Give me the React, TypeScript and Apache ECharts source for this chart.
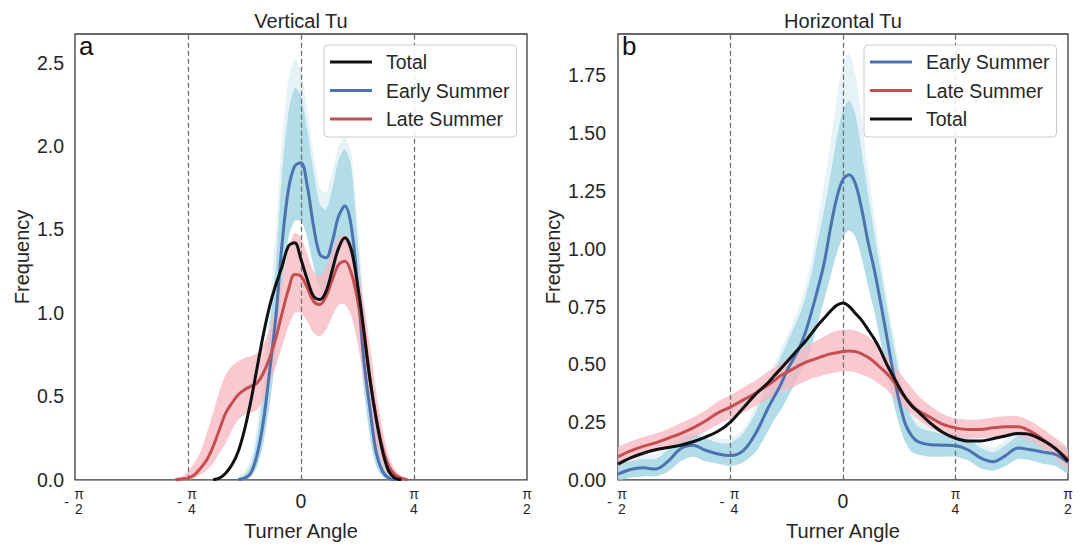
import React, { useEffect, useRef } from 'react';
import * as echarts from 'echarts';

// ---------- Panel a: Vertical Tu (x in degrees, -90..90 = -π/2..π/2) ----------
const X_VERT_LATE = [-50, -47.5, -45, -42.5, -40, -37.5, -35, -32.5, -30, -27.5, -25, -22.5, -20, -17.5, -15, -12.5, -10, -7.5, -5, -2.5, 0, 2.5, 5, 7.5, 10, 12.5, 15, 17.5, 20, 22.5, 25, 27.5, 30, 32.5, 35, 37.5, 40, 42.5];
const VERT_LATE = [0, 0.005, 0.01, 0.03, 0.07, 0.12, 0.2, 0.3, 0.4, 0.46, 0.51, 0.54, 0.56, 0.58, 0.64, 0.73, 0.85, 1.0, 1.14, 1.23, 1.22, 1.15, 1.07, 1.05, 1.1, 1.2, 1.29, 1.31, 1.24, 1.08, 0.85, 0.6, 0.37, 0.19, 0.08, 0.03, 0.01, 0];
const VERT_LATE_LO = [0, 0, 0, 0.01, 0.03, 0.06, 0.1, 0.16, 0.22, 0.3, 0.36, 0.39, 0.4, 0.42, 0.48, 0.57, 0.68, 0.8, 0.92, 1.0, 1.0, 0.95, 0.88, 0.86, 0.9, 0.98, 1.05, 1.05, 0.98, 0.82, 0.6, 0.38, 0.2, 0.09, 0.03, 0.01, 0, 0];
const VERT_LATE_HI = [0.01, 0.02, 0.05, 0.1, 0.17, 0.28, 0.4, 0.53, 0.63, 0.68, 0.71, 0.73, 0.74, 0.76, 0.81, 0.9, 1.03, 1.2, 1.38, 1.48, 1.45, 1.35, 1.25, 1.22, 1.27, 1.37, 1.45, 1.47, 1.42, 1.28, 1.06, 0.8, 0.52, 0.3, 0.14, 0.06, 0.02, 0.01];

const X_VERT_TOTAL = [-35, -32.5, -30, -27.5, -25, -22.5, -20, -17.5, -15, -12.5, -10, -7.5, -5, -2.5, 0, 2.5, 5, 7.5, 10, 12.5, 15, 17.5, 20, 22.5, 25, 27.5, 30, 32.5, 35, 37.5, 40];
const VERT_TOTAL = [0, 0.01, 0.04, 0.09, 0.17, 0.3, 0.47, 0.67, 0.87, 1.04, 1.17, 1.28, 1.4, 1.42, 1.32, 1.2, 1.1, 1.08, 1.13, 1.26, 1.39, 1.45, 1.38, 1.17, 0.9, 0.6, 0.36, 0.17, 0.05, 0.01, 0];

const X_VERT_EARLY = [-25, -22.5, -20, -17.5, -15, -12.5, -10, -7.5, -5, -2.5, 0, 2.5, 5, 7.5, 10, 12.5, 15, 17.5, 20, 22.5, 25, 27.5, 30, 32.5, 35, 37.5];
const VERT_EARLY = [0, 0.01, 0.04, 0.15, 0.35, 0.65, 0.98, 1.42, 1.74, 1.88, 1.9, 1.76, 1.52, 1.35, 1.33, 1.43, 1.58, 1.64, 1.52, 1.17, 0.72, 0.42, 0.16, 0.05, 0.01, 0];
const VERT_EARLY_LO = [0, 0, 0.02, 0.08, 0.22, 0.45, 0.75, 1.15, 1.45, 1.55, 1.55, 1.45, 1.28, 1.15, 1.12, 1.22, 1.35, 1.42, 1.32, 1.0, 0.55, 0.25, 0.08, 0.02, 0, 0];
const VERT_EARLY_HI = [0.01, 0.03, 0.09, 0.25, 0.55, 0.92, 1.3, 1.85, 2.2, 2.35, 2.3, 2.1, 1.85, 1.65, 1.62, 1.75, 1.92, 1.98, 1.88, 1.45, 1.0, 0.62, 0.3, 0.11, 0.03, 0.01];
const VERT_EARLY_MAX = [0.02, 0.05, 0.13, 0.32, 0.65, 1.05, 1.5, 2.05, 2.4, 2.52, 2.45, 2.22, 1.95, 1.75, 1.72, 1.85, 2.0, 2.05, 1.96, 1.55, 1.08, 0.68, 0.34, 0.13, 0.04, 0.01];

// ---------- Panel b: Horizontal Tu ----------
const X_HORIZ = [-90, -85, -80, -75, -70, -65, -60, -55, -50, -45, -40, -35, -30, -27.5, -25, -22.5, -20, -17.5, -15, -12.5, -10, -7.5, -5, -2.5, 0, 2.5, 5, 7.5, 10, 12.5, 15, 17.5, 20, 22.5, 25, 27.5, 30, 35, 40, 45, 50, 55, 60, 65, 70, 75, 80, 85, 90];
const HORIZ_EARLY = [0.025, 0.045, 0.052, 0.047, 0.08, 0.135, 0.15, 0.128, 0.112, 0.105, 0.125, 0.2, 0.31, 0.36, 0.41, 0.47, 0.52, 0.57, 0.64, 0.73, 0.83, 0.94, 1.09, 1.22, 1.3, 1.32, 1.28, 1.17, 1.03, 0.91, 0.77, 0.62, 0.47, 0.34, 0.24, 0.19, 0.165, 0.152, 0.15, 0.148, 0.13, 0.095, 0.078, 0.105, 0.138, 0.13, 0.12, 0.11, 0.075];
const HORIZ_EARLY_LO = [0.0, 0.01, 0.015, 0.015, 0.035, 0.08, 0.1, 0.08, 0.07, 0.06, 0.075, 0.12, 0.21, 0.26, 0.3, 0.35, 0.4, 0.45, 0.5, 0.58, 0.68, 0.78, 0.88, 0.98, 1.05, 1.08, 1.05, 0.96, 0.84, 0.73, 0.6, 0.47, 0.34, 0.24, 0.16, 0.12, 0.11, 0.1, 0.1, 0.1, 0.085, 0.05, 0.04, 0.06, 0.09, 0.085, 0.07, 0.06, 0.03];
const HORIZ_EARLY_HI = [0.06, 0.08, 0.09, 0.09, 0.13, 0.19, 0.2, 0.18, 0.16, 0.16, 0.2, 0.29, 0.42, 0.47, 0.53, 0.59, 0.65, 0.71, 0.79, 0.9, 1.04, 1.17, 1.32, 1.48, 1.6, 1.64, 1.58, 1.42, 1.24, 1.07, 0.91, 0.75, 0.6, 0.46, 0.34, 0.27, 0.23, 0.21, 0.2, 0.2, 0.18, 0.14, 0.12, 0.15, 0.19, 0.18, 0.17, 0.16, 0.12];
const HORIZ_EARLY_MAX = [0.08, 0.1, 0.11, 0.11, 0.15, 0.21, 0.22, 0.2, 0.18, 0.18, 0.22, 0.32, 0.45, 0.5, 0.56, 0.62, 0.68, 0.75, 0.84, 0.96, 1.12, 1.28, 1.46, 1.65, 1.8, 1.85, 1.75, 1.56, 1.34, 1.15, 0.97, 0.8, 0.64, 0.5, 0.37, 0.3, 0.25, 0.23, 0.22, 0.22, 0.2, 0.16, 0.14, 0.17, 0.21, 0.2, 0.19, 0.18, 0.14];
const HORIZ_LATE = [0.1, 0.125, 0.145, 0.16, 0.18, 0.2, 0.225, 0.255, 0.29, 0.315, 0.345, 0.375, 0.41, 0.43, 0.45, 0.465, 0.48, 0.495, 0.508, 0.518, 0.528, 0.537, 0.545, 0.55, 0.555, 0.557, 0.555, 0.545, 0.53, 0.51, 0.485, 0.46, 0.43, 0.39, 0.355, 0.325, 0.3, 0.27, 0.24, 0.225, 0.218, 0.218, 0.225, 0.23, 0.23, 0.21, 0.175, 0.135, 0.09];
const HORIZ_LATE_LO = [0.06, 0.085, 0.105, 0.12, 0.14, 0.16, 0.18, 0.21, 0.24, 0.265, 0.29, 0.32, 0.35, 0.365, 0.38, 0.39, 0.4, 0.415, 0.425, 0.44, 0.445, 0.455, 0.46, 0.465, 0.47, 0.47, 0.465, 0.455, 0.445, 0.43, 0.41, 0.39, 0.36, 0.335, 0.31, 0.285, 0.26, 0.225, 0.2, 0.185, 0.18, 0.18, 0.185, 0.19, 0.19, 0.17, 0.135, 0.095, 0.05];
const HORIZ_LATE_HI = [0.14, 0.165, 0.185, 0.2, 0.22, 0.245, 0.27, 0.3, 0.34, 0.365, 0.4, 0.43, 0.47, 0.485, 0.5, 0.52, 0.54, 0.555, 0.575, 0.59, 0.605, 0.62, 0.635, 0.645, 0.65, 0.65, 0.645, 0.635, 0.62, 0.595, 0.565, 0.535, 0.5, 0.465, 0.43, 0.4, 0.365, 0.32, 0.285, 0.265, 0.26, 0.262, 0.27, 0.275, 0.275, 0.255, 0.22, 0.18, 0.13];
const HORIZ_TOTAL = [0.068, 0.095, 0.115, 0.13, 0.14, 0.15, 0.165, 0.185, 0.21, 0.25, 0.31, 0.37, 0.42, 0.45, 0.48, 0.51, 0.54, 0.57, 0.6, 0.635, 0.67, 0.7, 0.73, 0.755, 0.765, 0.75, 0.72, 0.69, 0.65, 0.61, 0.56, 0.5, 0.45, 0.4, 0.355, 0.32, 0.295, 0.245, 0.205, 0.18, 0.168, 0.168, 0.178, 0.19, 0.2, 0.195, 0.17, 0.135, 0.08];

// ---------- axes ----------
const X_TICKS = [-90, -45, 0, 45, 90];
const X_TICK_DEN = ['2', '4', '', '4', '2'];
const DASH_X = [-45, 0, 45];
const LEGEND_A = ['Total', 'Early Summer', 'Late Summer'];
const LEGEND_B = ['Early Summer', 'Late Summer', 'Total'];

const FONT = '"Liberation Sans", Arial, Helvetica, sans-serif';
const INK = '#262626';
const C_EARLY = '#4c72b0';
const C_LATE = '#c44e52';
const C_TOTAL = '#111111';
const C_BLUEBAND = '#a9d8e6';
const C_PINKBAND = '#f8b8c2';

function pts(xs: number[], ys: number[]) {
  return xs.map((x, i) => [x, ys[i]]);
}

function lineSeries(name: string, xs: number[], ys: number[], color: string, xi: number, yi: number, extra: any = {}) {
  return {
    type: 'line',
    name,
    xAxisIndex: xi,
    yAxisIndex: yi,
    data: pts(xs, ys),
    smooth: 0.35,
    symbol: 'none',
    showSymbol: false,
    color,
    itemStyle: { color },
    lineStyle: { color, width: 3 },
    z: 10,
    clip: true,
    silent: true,
    ...extra,
  };
}

function bandSeries(id: string, xs: number[], lo: number[], hi: number[], color: string, opacity: number, xi: number, yi: number) {
  return {
    type: 'custom',
    name: id,
    xAxisIndex: xi,
    yAxisIndex: yi,
    clip: true,
    silent: true,
    z: 2,
    data: xs.map((x, i) => [x, lo[i], hi[i]]),
    encode: { x: 0, y: [1, 2] },
    renderItem: (params: any, api: any) => {
      if (params.dataIndex !== 0) return null;
      const up = xs.map((x, i) => api.coord([x, hi[i]]));
      const dn = xs.map((x, i) => api.coord([x, lo[i]])).reverse();
      return {
        type: 'polygon',
        shape: { points: up.concat(dn), smooth: 0.25 },
        style: { fill: color, opacity },
      };
    },
  };
}

function dashMarks() {
  return {
    silent: true,
    z: 4,
    symbol: ['none', 'none'],
    label: { show: false },
    lineStyle: { type: [5, 3], color: '#6e6e6e', width: 1.3 },
    data: DASH_X.map((x) => ({ xAxis: x })),
  };
}

function xLabel(v: number) {
  const i = X_TICKS.indexOf(Math.round(v));
  if (i < 0) return '';
  if (X_TICK_DEN[i] === '') return '{z|0}';
  const s = v < 0 ? 'n' : 'p';
  return `{${s}|π}\n{${s}|${X_TICK_DEN[i]}}`;
}

function mainX(g: number) {
  const frac = { fontSize: 14, lineHeight: 15.5, color: INK, fontFamily: FONT };
  return {
    type: 'value',
    gridIndex: g,
    min: -90,
    max: 90,
    interval: 45,
    position: 'bottom',
    axisLine: { show: false },
    axisTick: { show: false },
    splitLine: { show: false },
    axisLabel: {
      formatter: xLabel,
      margin: 6,
      rich: {
        z: { fontSize: 19.5, lineHeight: 31, color: INK, fontFamily: FONT },
        n: { ...frac, padding: [0, 0, 0, 8] },
        p: frac,
      },
    },
    name: 'Turner Angle',
    nameLocation: 'middle',
    nameGap: 39,
    nameTextStyle: { fontSize: 20, color: INK, fontFamily: FONT },
  };
}

function minusX(g: number) {
  return {
    type: 'value',
    gridIndex: g,
    min: -90,
    max: 90,
    interval: 45,
    position: 'bottom',
    axisLine: { show: false },
    axisTick: { show: false },
    splitLine: { show: false },
    axisLabel: {
      formatter: (v: number) => (v < 0 ? '{m|-}' : ''),
      margin: 6,
      rich: { m: { fontSize: 15, lineHeight: 31, color: INK, fontFamily: FONT, padding: [0, 17, 0, 0] } },
    },
  };
}

function yAxis(g: number, max: number, step: number, digits: number, margin: number, nameGap: number) {
  return {
    type: 'value',
    gridIndex: g,
    min: 0,
    max,
    interval: step,
    axisLine: { show: false },
    axisTick: { show: false },
    splitLine: { show: false },
    axisLabel: {
      formatter: (v: number) => {
        const k = v / step;
        return Math.abs(k - Math.round(k)) < 1e-6 ? v.toFixed(digits) : '';
      },
      fontSize: 19.5,
      color: INK,
      fontFamily: FONT,
      margin,
    },
    name: 'Frequency',
    nameLocation: 'middle',
    nameGap,
    nameTextStyle: { fontSize: 20, color: INK, fontFamily: FONT },
  };
}

function legend(data: string[], left: number) {
  return {
    data,
    left,
    top: 45,
    orient: 'vertical',
    icon: 'rect',
    itemWidth: 42,
    itemHeight: 3,
    itemGap: 8.5,
    padding: [7, 7, 8, 6],
    backgroundColor: 'rgba(255,255,255,0.85)',
    borderColor: '#cccccc',
    borderWidth: 1,
    borderRadius: 4,
    selectedMode: false,
    z: 20,
    textStyle: { fontSize: 19.5, lineHeight: 20, color: INK, fontFamily: FONT, padding: [0, 0, 0, 9] },
  };
}

const option: any = {
  animation: false,
  backgroundColor: '#ffffff',
  grid: [
    { left: 75, top: 34, width: 452, height: 453, show: true, borderColor: '#3a3a3a', borderWidth: 1.3, backgroundColor: 'transparent' },
    { left: 618, top: 34, width: 450, height: 453, show: true, borderColor: '#3a3a3a', borderWidth: 1.3, backgroundColor: 'transparent' },
  ],
  xAxis: [mainX(0), minusX(0), mainX(1), minusX(1)],
  yAxis: [yAxis(0, 2.671, 0.5, 1, 11, 43), yAxis(1, 1.929, 0.25, 2, 12, 55)],
  legend: [legend(LEGEND_A, 324), legend(LEGEND_B, 864)],
  graphic: [
    { type: 'text', x: 301, y: 21, style: { text: 'Vertical Tu', fontSize: 20, fontFamily: FONT, fill: INK, align: 'center', verticalAlign: 'middle' } },
    { type: 'text', x: 843, y: 21, style: { text: 'Horizontal Tu', fontSize: 20, fontFamily: FONT, fill: INK, align: 'center', verticalAlign: 'middle' } },
    { type: 'text', x: 79, y: 46, z: 30, style: { text: 'a', fontSize: 26, fontFamily: FONT, fill: '#111', align: 'left', verticalAlign: 'middle' } },
    { type: 'text', x: 622, y: 46, z: 30, style: { text: 'b', fontSize: 26, fontFamily: FONT, fill: '#111', align: 'left', verticalAlign: 'middle' } },
  ],
  series: [
    // panel a bands
    bandSeries('va_early_outer', X_VERT_EARLY, VERT_EARLY_HI, VERT_EARLY_MAX, C_BLUEBAND, 0.3, 0, 0),
    bandSeries('va_early_core', X_VERT_EARLY, VERT_EARLY_LO, VERT_EARLY_HI, C_BLUEBAND, 0.9, 0, 0),
    bandSeries('va_late_core', X_VERT_LATE, VERT_LATE_LO, VERT_LATE_HI, C_PINKBAND, 0.78, 0, 0),
    // panel a lines
    lineSeries('Early Summer', X_VERT_EARLY, VERT_EARLY, C_EARLY, 0, 0),
    lineSeries('Late Summer', X_VERT_LATE, VERT_LATE, C_LATE, 0, 0, { markLine: dashMarks() }),
    lineSeries('Total', X_VERT_TOTAL, VERT_TOTAL, C_TOTAL, 0, 0),
    // panel b bands
    bandSeries('hb_early_outer', X_HORIZ, HORIZ_EARLY_HI, HORIZ_EARLY_MAX, C_BLUEBAND, 0.3, 2, 1),
    bandSeries('hb_early_core', X_HORIZ, HORIZ_EARLY_LO, HORIZ_EARLY_HI, C_BLUEBAND, 0.9, 2, 1),
    bandSeries('hb_late_core', X_HORIZ, HORIZ_LATE_LO, HORIZ_LATE_HI, C_PINKBAND, 0.78, 2, 1),
    // panel b lines
    lineSeries('Early Summer', X_HORIZ, HORIZ_EARLY, C_EARLY, 2, 1),
    lineSeries('Late Summer', X_HORIZ, HORIZ_LATE, C_LATE, 2, 1, { markLine: dashMarks() }),
    lineSeries('Total', X_HORIZ, HORIZ_TOTAL, C_TOTAL, 2, 1),
  ],
};

export default function App() {
  const ref = useRef<HTMLDivElement>(null);
  useEffect(() => {
    if (!ref.current) return;
    const chart = echarts.init(ref.current, undefined, { renderer: 'svg' });
    chart.setOption(option);
    return () => chart.dispose();
  }, []);
  return <div ref={ref} style={{ position: 'absolute', left: 0, top: 0, width: 1082, height: 546 }} />;
}
